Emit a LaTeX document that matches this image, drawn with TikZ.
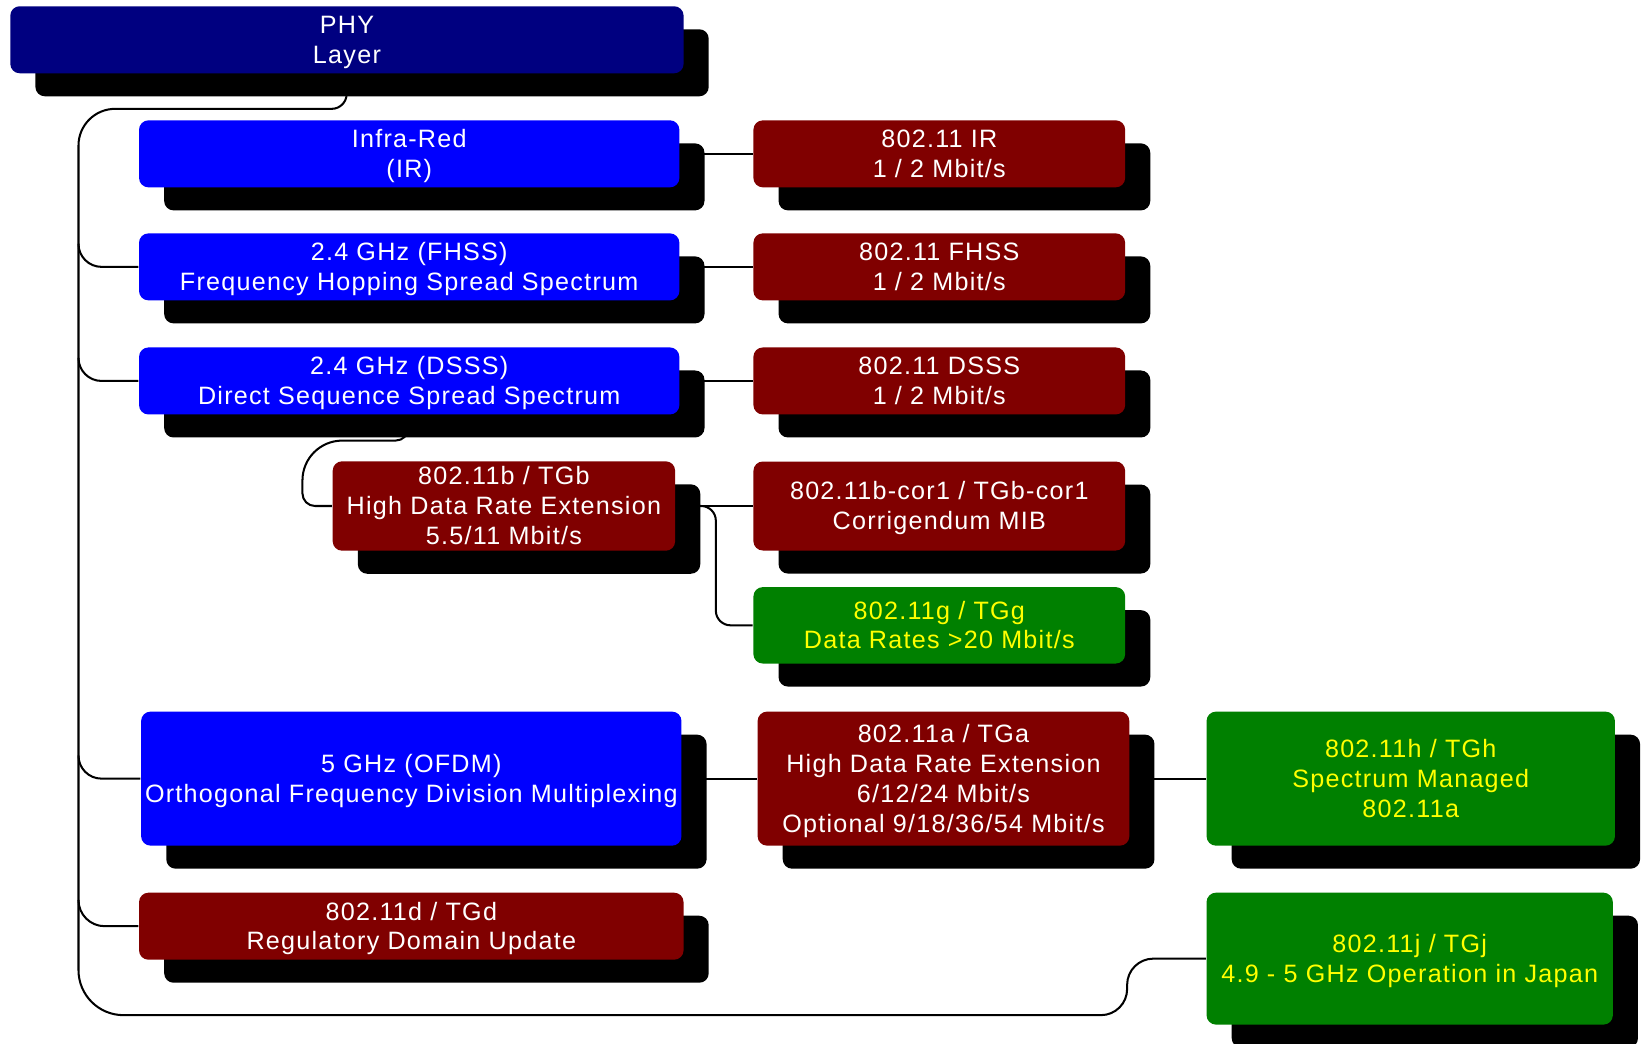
\documentclass[tikz,border=0pt]{standalone}
\usepackage{fontspec}
\setmainfont{Liberation Sans}[LetterSpace=5]
\usetikzlibrary{shadows}
\definecolor{cnavy}{HTML}{000080}
\definecolor{cblue}{HTML}{0000FF}
\definecolor{cred}{HTML}{800000}
\definecolor{cgreen}{HTML}{008000}
\definecolor{cyellow}{HTML}{FFFF00}
\newcommand\boxtxt[1]{\raisebox{-0.75pt}[\height][\depth]{\begin{tabular}{@{}c@{}}#1\end{tabular}}}
\tikzset{
  box/.style={rounded corners=0.09cm, inner sep=0pt,
    font=\fontsize{6.83pt}{8.1pt}\selectfont,
    drop shadow={shadow xshift=0.24cm, shadow yshift=-0.22cm, fill=black, opacity=1}},
  navybox/.style={box, fill=cnavy, text=white},
  bluebox/.style={box, fill=cblue, text=white},
  redbox/.style={box, fill=cred, text=white},
  greenbox/.style={box, fill=cgreen, text=cyellow},
  conn/.style={draw=black, line width=0.55pt},
}
\begin{document}
\begin{tikzpicture}[x=0.01cm, y=-0.01cm]
\useasboundingbox (0,0) rectangle (1568,997);
% nodes
\node[navybox, minimum width=6.43cm, minimum height=0.64cm] (phy) at (331.5,38) {\boxtxt{PHY\\Layer}};
\node[bluebox, minimum width=5.16cm, minimum height=0.64cm] (ir) at (391,147) {\boxtxt{Infra-Red\\(IR)}};
\node[bluebox, minimum width=5.16cm, minimum height=0.64cm] (fhss) at (391,255) {\boxtxt{2.4 GHz (FHSS)\\Frequency Hopping Spread Spectrum}};
\node[bluebox, minimum width=5.16cm, minimum height=0.64cm] (dsss) at (391,364) {\boxtxt{2.4 GHz (DSSS)\\Direct Sequence Spread Spectrum}};
\node[redbox, minimum width=3.27cm, minimum height=0.85cm] (tgb) at (481.5,483.5) {\boxtxt{802.11b / TGb\\High Data Rate Extension\\5.5/11 Mbit/s}};
\node[bluebox, minimum width=5.16cm, minimum height=1.28cm] (ofdm) at (393,744) {\boxtxt{5 GHz (OFDM)\\Orthogonal Frequency Division Multiplexing}};
\node[redbox, minimum width=5.20cm, minimum height=0.64cm] (tgd) at (393,885) {\boxtxt{802.11d / TGd\\Regulatory Domain Update}};
\node[redbox, minimum width=3.55cm, minimum height=0.64cm] (rir) at (897.5,147) {\boxtxt{802.11 IR\\1 / 2 Mbit/s}};
\node[redbox, minimum width=3.55cm, minimum height=0.64cm] (rfhss) at (897.5,255) {\boxtxt{802.11 FHSS\\1 / 2 Mbit/s}};
\node[redbox, minimum width=3.55cm, minimum height=0.64cm] (rdsss) at (897.5,364) {\boxtxt{802.11 DSSS\\1 / 2 Mbit/s}};
\node[redbox, minimum width=3.55cm, minimum height=0.85cm] (cor) at (897.5,483.5) {\boxtxt{802.11b-cor1 / TGb-cor1\\Corrigendum MIB}};
\node[greenbox, minimum width=3.55cm, minimum height=0.73cm] (tgg) at (897.5,597.5) {\boxtxt{802.11g / TGg\\Data Rates >20 Mbit/s}};
\node[redbox, minimum width=3.55cm, minimum height=1.28cm] (tga) at (901.5,744) {\boxtxt{802.11a / TGa\\High Data Rate Extension\\6/12/24 Mbit/s\\Optional 9/18/36/54 Mbit/s}};
\node[greenbox, minimum width=3.90cm, minimum height=1.28cm] (tgh) at (1348,744) {\boxtxt{802.11h / TGh\\Spectrum Managed\\802.11a}};
\node[greenbox, minimum width=3.88cm, minimum height=1.26cm] (tgj) at (1347,916) {\boxtxt{802.11j / TGj\\4.9 - 5 GHz Operation in Japan}};
% trunk coordinates
\coordinate (tk1) at (331,104);
\coordinate (tk2) at (75,104);
\coordinate (tk3) at (75,970);
\coordinate (tk4) at (1077,970);
\coordinate (tk5) at (1077,916);
\coordinate (bf) at (75,233);
\coordinate (bd) at (75,342);
\coordinate (bo) at (75,722);
\coordinate (bt) at (75,860);
\coordinate (d1) at (390,421);
\coordinate (d2) at (289,421);
\coordinate (d3) at (289,483.5);
\coordinate (g1) at (684,483.5);
\coordinate (g2) at (684,597.5);
% connectors
\draw[conn] (phy.south) [rounded corners=0.14cm] -- (tk1) [rounded corners=0.35cm] -- (tk2) [rounded corners=0.43cm] -- (tk3) [rounded corners=0.25cm] -- (tk4) -- (tk5) -- (tgj.west);
\draw[conn, rounded corners=0.22cm] (bf) |- (fhss.west);
\draw[conn, rounded corners=0.22cm] (bd) |- (dsss.west);
\draw[conn, rounded corners=0.22cm] (bo) |- (ofdm.west);
\draw[conn, rounded corners=0.25cm] (bt) |- (tgd.west);
\draw[conn] (dsss.south) [rounded corners=0.12cm] -- (d1) [rounded corners=0.38cm] -- (d2) [rounded corners=0.12cm] -- (d3) -- (tgb.west);
\draw[conn] (ir.east) -- (rir.west);
\draw[conn] (fhss.east) -- (rfhss.west);
\draw[conn] (dsss.east) -- (rdsss.west);
\draw[conn] (tgb.east) -- (cor.west);
\draw[conn, rounded corners=0.14cm] (tgb.east) -- (g1) -- (g2) -- (tgg.west);
\draw[conn] (ofdm.east) -- (tga.west);
\draw[conn] (tga.east) -- (tgh.west);
\end{tikzpicture}
\end{document}
